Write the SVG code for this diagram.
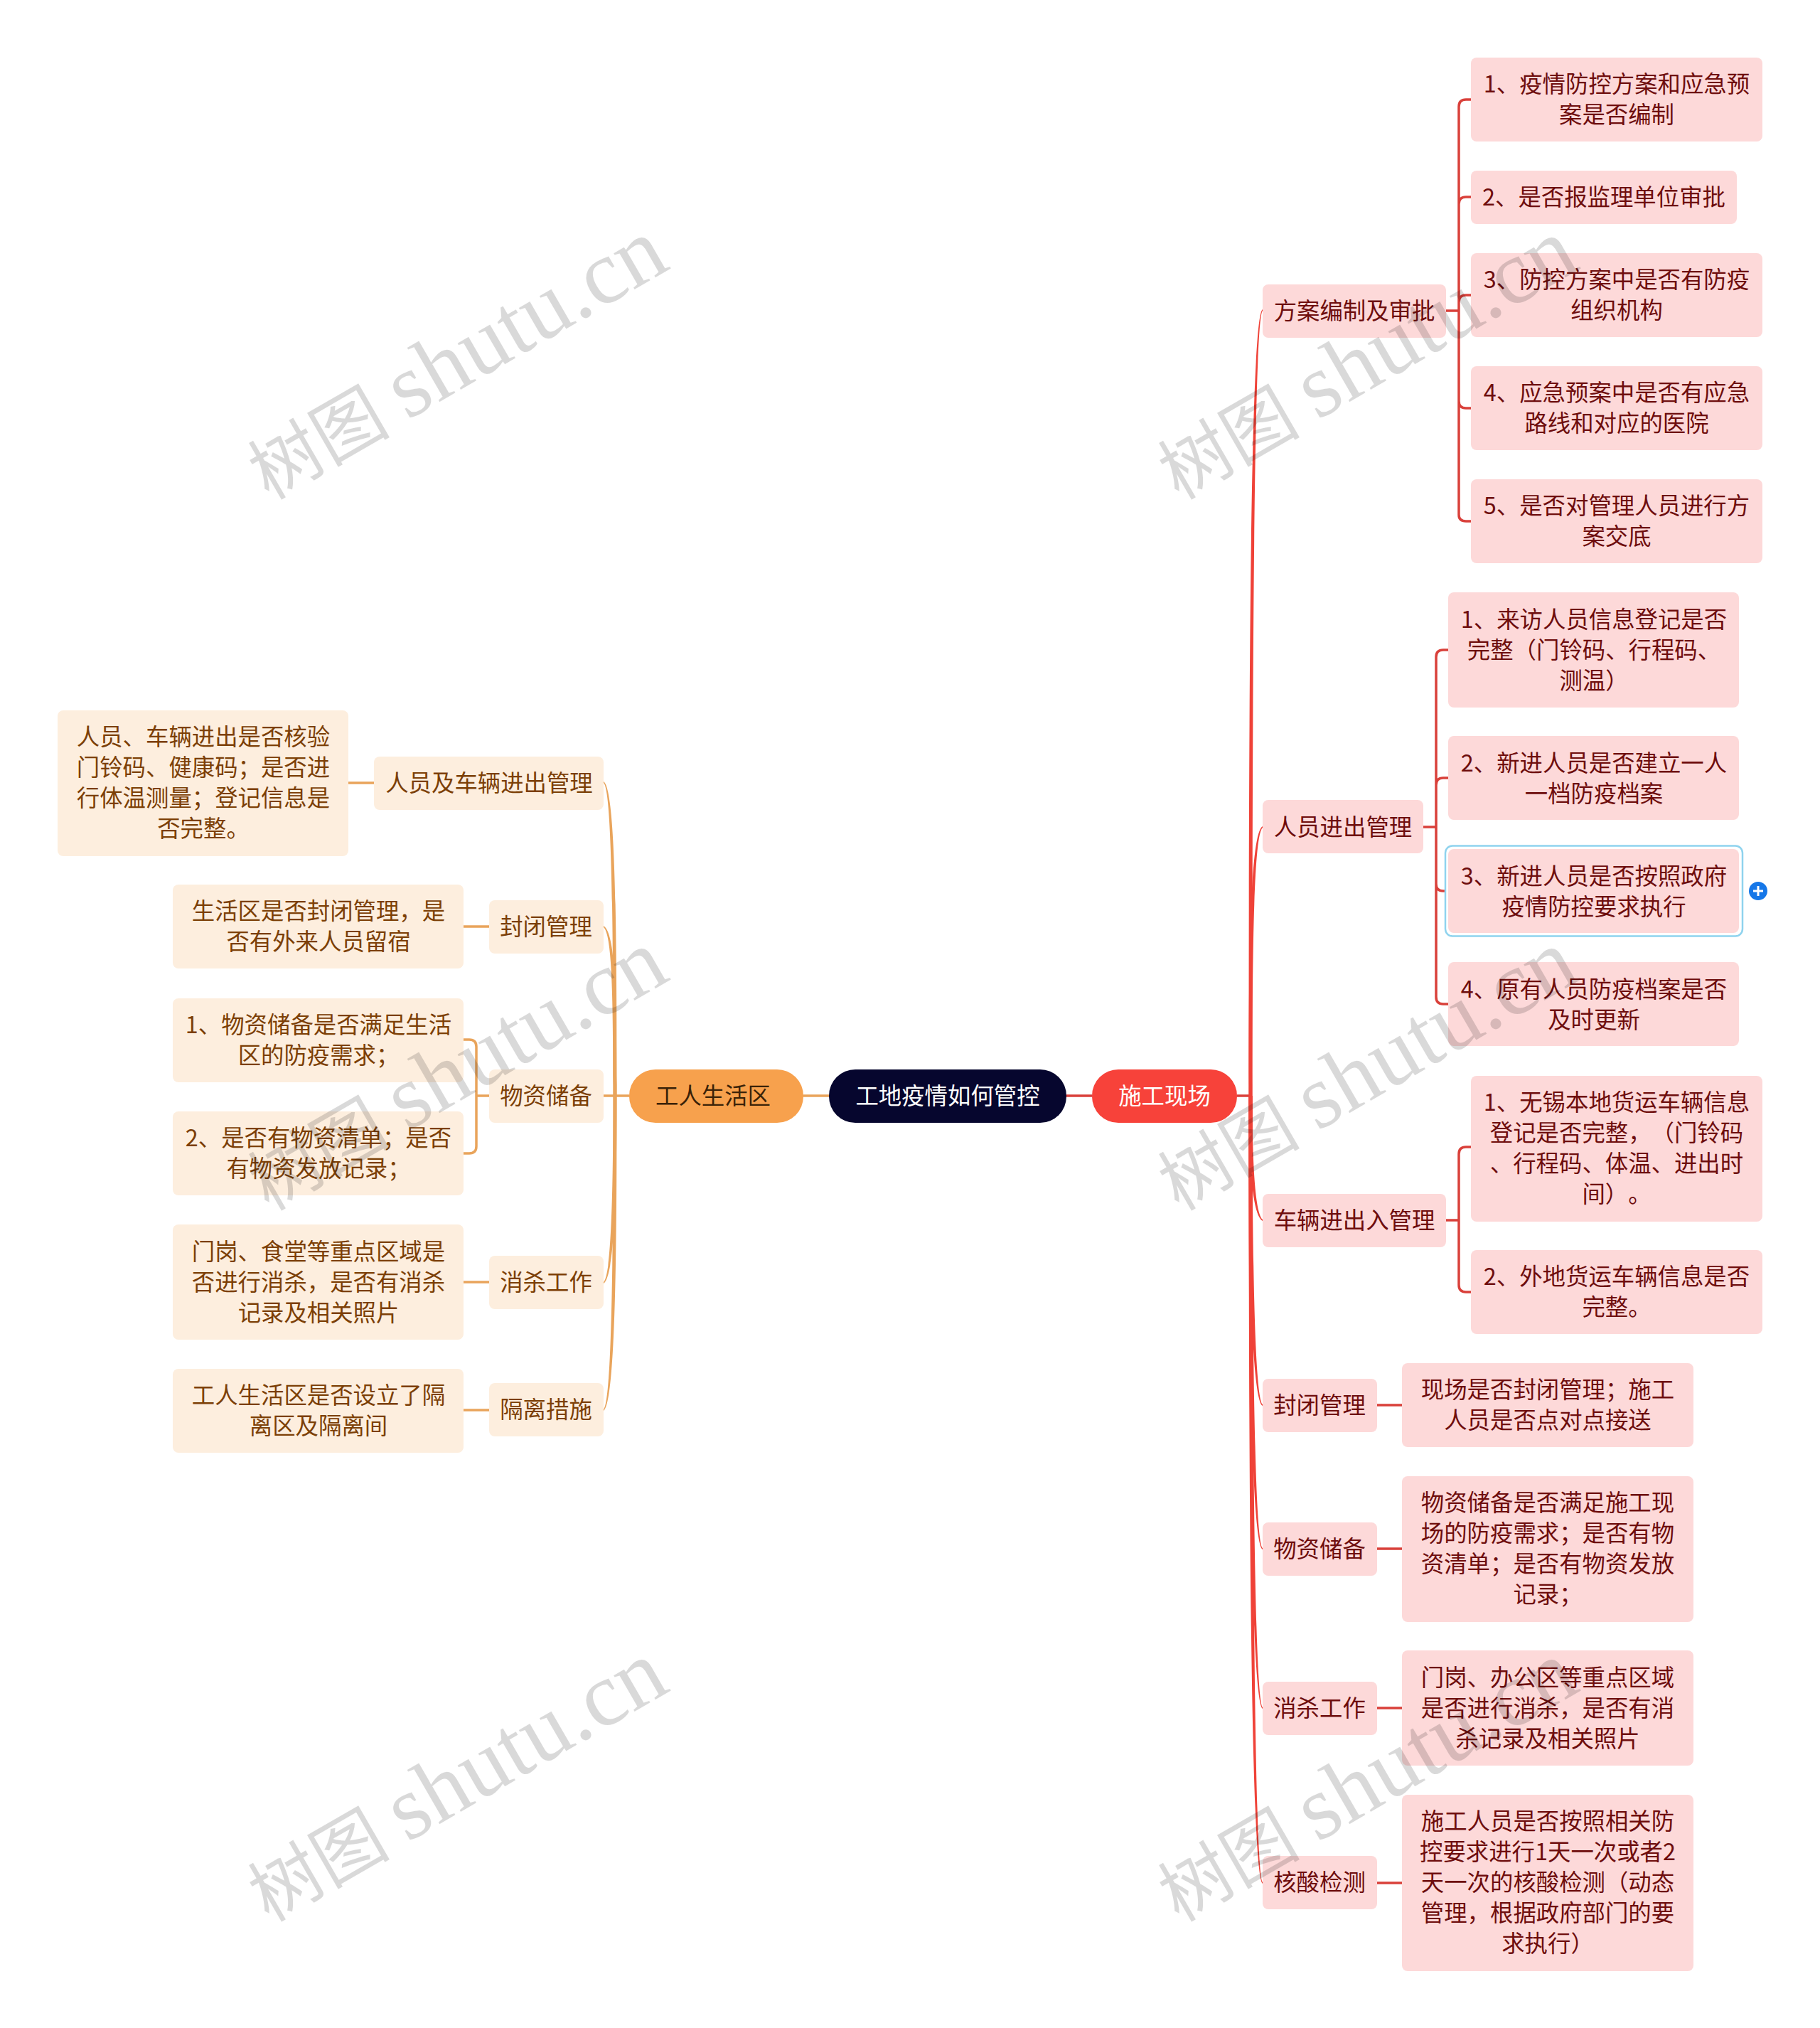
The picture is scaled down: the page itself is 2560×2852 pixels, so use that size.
<svg xmlns="http://www.w3.org/2000/svg" width="2560" height="2852" viewBox="0 0 2560 2852">
<style>
text{font-family:"Noto Sans CJK SC","Noto Sans",sans-serif;font-size:32.4px;text-anchor:middle;text-spacing-trim:space-all}
.r rect{fill:#fdd9d9}.r text{fill:#6e0d0d}
.o rect{fill:#fdeede}.o text{fill:#7c3f06}
.wm{font-family:"Liberation Serif","Noto Sans CJK SC",serif;font-size:128px;fill:#000;fill-opacity:.15;text-anchor:start}
.wm tspan.c{font-family:"Noto Sans CJK SC",serif;font-size:100px}
.lr{fill:none;stroke:#d9403a;stroke-width:3.500}.lo{fill:none;stroke:#e9a45b;stroke-width:3.500}
.tr{fill:#ef4238}.to{fill:#e9a45b}
</style>
<rect width="2560" height="2852" fill="#fff"/>
<g id="connectors">
<path class="lr" d="M1500 1541H1536M1740 1541H1759"/>
<path class="lo" d="M1130 1541H1166M849 1541H885"/>
<path class="tr" d="M1756.500 1541C1756.500 1000 1758 445 1776 435V437C1763 447 1761.500 1000 1761.500 1541Z"/>
<path class="tr" d="M1756.500 1541C1756.500 1350 1758 1172 1776 1162V1164C1763 1174 1761.500 1350 1761.500 1541Z"/>
<path class="tr" d="M1756.500 1541C1756.500 1600 1758 1706 1776 1717V1715C1763 1704 1761.500 1600 1761.500 1541Z"/>
<path class="tr" d="M1756.500 1541C1756.500 1700 1758 1966 1776 1977V1975C1763 1964 1761.500 1700 1761.500 1541Z"/>
<path class="tr" d="M1756.500 1541C1756.500 1800 1758 2168 1776 2179V2177C1763 2166 1761.500 1800 1761.500 1541Z"/>
<path class="tr" d="M1756.500 1541C1756.500 1900 1758 2392 1776 2403V2401C1763 2390 1761.500 1900 1761.500 1541Z"/>
<path class="tr" d="M1756.500 1541C1756.500 2000 1758 2638 1776 2649V2647C1763 2636 1761.500 2000 1761.500 1541Z"/>
<path class="to" d="M867.500 1541C867.500 1300 866 1110 849 1099V1101C861 1112 862.500 1300 862.500 1541Z"/>
<path class="to" d="M867.500 1541C867.500 1400 866 1313 849 1302V1304C861 1315 862.500 1400 862.500 1541Z"/>
<path class="to" d="M867.500 1541C867.500 1650 866 1794 849 1805V1803C861 1792 862.500 1650 862.500 1541Z"/>
<path class="to" d="M867.500 1541C867.500 1750 866 1973 849 1984V1982C861 1971 862.500 1750 862.500 1541Z"/>
<path class="lr" d="M2034 437H2052M2069 140H2062Q2052 140 2052 150V724Q2052 733 2062 733H2069M2069 277H2062Q2052 277 2052 287M2069 415H2062Q2052 415 2052 425M2069 574H2062Q2052 574 2052 564"/>
<path class="lr" d="M2002 1163H2020M2037 914H2030Q2020 914 2020 924V1402Q2020 1412 2030 1412H2037M2037 1094H2030Q2020 1094 2020 1104M2037 1253H2030Q2020 1253 2020 1243"/>
<path class="lr" d="M2034 1716H2052M2070 1613H2062Q2052 1613 2052 1623V1807Q2052 1817 2062 1817H2070"/>
<path class="lr" d="M1937 1976H1972M1937 2178H1972M1937 2402H1972M1937 2648H1972"/>
<path class="lo" d="M490 1101H526M652 1303H688M652 1803H688M652 1983H688"/>
<path class="lo" d="M688 1541H670M652 1462H660Q670 1462 670 1472V1612Q670 1622 660 1622H652"/>
</g>
<g id="root"><rect x="1166" y="1504" width="334" height="75" rx="37" fill="#06062e"/><text x="1333" y="1553" fill="#fff">工地疫情如何管控</text></g>
<g id="site"><rect x="1536" y="1504" width="204" height="75" rx="37" fill="#f7423a"/><text x="1638" y="1553" fill="#fff">施工现场</text></g>
<g id="living"><rect x="885" y="1504" width="245" height="75" rx="37" fill="#f7a14d"/><text x="1003" y="1553" fill="#3a2208">工人生活区</text></g>
<g class="r">
<g id="r1"><rect x="1776" y="400" width="258" height="75" rx="8"/><text x="1905" y="448.500">方案编制及审批</text></g>
<g id="r11"><rect x="2069" y="81" width="410" height="118" rx="8"/><text x="2274" y="129.500">1、疫情防控方案和应急预</text><text x="2274" y="172.500">案是否编制</text></g>
<g id="r12"><rect x="2069" y="240" width="374" height="75" rx="8"/><text x="2256" y="288.500">2、是否报监理单位审批</text></g>
<g id="r13"><rect x="2069" y="356" width="410" height="118" rx="8"/><text x="2274" y="404.500">3、防控方案中是否有防疫</text><text x="2274" y="447.500">组织机构</text></g>
<g id="r14"><rect x="2069" y="515" width="410" height="118" rx="8"/><text x="2274" y="563.500">4、应急预案中是否有应急</text><text x="2274" y="606.500">路线和对应的医院</text></g>
<g id="r15"><rect x="2069" y="674" width="410" height="118" rx="8"/><text x="2274" y="722.500">5、是否对管理人员进行方</text><text x="2274" y="765.500">案交底</text></g>
<g id="r2"><rect x="1776" y="1125" width="226" height="75" rx="8"/><text x="1889" y="1174.500">人员进出管理</text></g>
<g id="r21"><rect x="2037" y="833" width="409" height="162" rx="8"/><text x="2242" y="883">1、来访人员信息登记是否</text><text x="2242" y="926">完整（门铃码、行程码、</text><text x="2242" y="969">测温）</text></g>
<g id="r22"><rect x="2037" y="1035" width="409" height="118" rx="8"/><text x="2242" y="1084.500">2、新进人员是否建立一人</text><text x="2242" y="1127.500">一档防疫档案</text></g>
<g id="r23"><rect x="2033" y="1189.500" width="418" height="127" rx="10" style="fill:#fff;stroke:#8fd3ee;stroke-width:2.500"/><rect x="2037" y="1194" width="409" height="118" rx="8"/><text x="2242" y="1243.500">3、新进人员是否按照政府</text><text x="2242" y="1286.500">疫情防控要求执行</text></g>
<g id="r24"><rect x="2037" y="1353" width="409" height="118" rx="8"/><text x="2242" y="1402.500">4、原有人员防疫档案是否</text><text x="2242" y="1445.500">及时更新</text></g>
<g id="r3"><rect x="1776" y="1679" width="258" height="75" rx="8"/><text x="1905" y="1728">车辆进出入管理</text></g>
<g id="r31"><rect x="2069" y="1513" width="410" height="205" rx="8"/><text x="2274" y="1562">1、无锡本地货运车辆信息</text><text x="2274" y="1605">登记是否完整，（门铃码</text><text x="2274" y="1648">、行程码、体温、进出时</text><text x="2274" y="1691">间）。</text></g>
<g id="r32"><rect x="2069" y="1758" width="410" height="118" rx="8"/><text x="2274" y="1807">2、外地货运车辆信息是否</text><text x="2274" y="1850">完整。</text></g>
<g id="r4"><rect x="1776" y="1939" width="161" height="75" rx="8"/><text x="1856" y="1988">封闭管理</text></g>
<g id="r41"><rect x="1972" y="1917" width="410" height="118" rx="8"/><text x="2177" y="1966">现场是否封闭管理；施工</text><text x="2177" y="2009">人员是否点对点接送</text></g>
<g id="r5"><rect x="1776" y="2141" width="161" height="75" rx="8"/><text x="1856" y="2190">物资储备</text></g>
<g id="r51"><rect x="1972" y="2076" width="410" height="205" rx="8"/><text x="2177" y="2125">物资储备是否满足施工现</text><text x="2177" y="2168">场的防疫需求；是否有物</text><text x="2177" y="2211">资清单；是否有物资发放</text><text x="2177" y="2254">记录；</text></g>
<g id="r6"><rect x="1776" y="2365" width="161" height="75" rx="8"/><text x="1856" y="2414">消杀工作</text></g>
<g id="r61"><rect x="1972" y="2321" width="410" height="162" rx="8"/><text x="2177" y="2371">门岗、办公区等重点区域</text><text x="2177" y="2414">是否进行消杀，是否有消</text><text x="2177" y="2457">杀记录及相关照片</text></g>
<g id="r7"><rect x="1776" y="2610" width="161" height="75" rx="8"/><text x="1856" y="2659">核酸检测</text></g>
<g id="r71"><rect x="1972" y="2524" width="410" height="248" rx="8"/><text x="2177" y="2573">施工人员是否按照相关防</text><text x="2177" y="2616">控要求进行1天一次或者2</text><text x="2177" y="2659">天一次的核酸检测（动态</text><text x="2177" y="2702">管理，根据政府部门的要</text><text x="2177" y="2745">求执行）</text></g>
</g>
<g class="o">
<g id="l1"><rect x="526" y="1064" width="323" height="75" rx="8"/><text x="688" y="1113">人员及车辆进出管理</text></g>
<g id="l11"><rect x="81" y="999" width="409" height="205" rx="8"/><text x="286" y="1048">人员、车辆进出是否核验</text><text x="286" y="1091">门铃码、健康码；是否进</text><text x="286" y="1134">行体温测量；登记信息是</text><text x="286" y="1177">否完整。</text></g>
<g id="l2"><rect x="688" y="1266" width="161" height="75" rx="8"/><text x="768" y="1315">封闭管理</text></g>
<g id="l21"><rect x="243" y="1244" width="409" height="118" rx="8"/><text x="448" y="1293">生活区是否封闭管理，是</text><text x="448" y="1336">否有外来人员留宿</text></g>
<g id="l3"><rect x="688" y="1504" width="161" height="75" rx="8"/><text x="768" y="1553">物资储备</text></g>
<g id="l31"><rect x="243" y="1404" width="409" height="118" rx="8"/><text x="448" y="1453">1、物资储备是否满足生活</text><text x="448" y="1496">区的防疫需求；</text></g>
<g id="l32"><rect x="243" y="1563" width="409" height="118" rx="8"/><text x="448" y="1612">2、是否有物资清单；是否</text><text x="448" y="1655">有物资发放记录；</text></g>
<g id="l4"><rect x="688" y="1766" width="161" height="75" rx="8"/><text x="768" y="1815">消杀工作</text></g>
<g id="l41"><rect x="243" y="1722" width="409" height="162" rx="8"/><text x="448" y="1772">门岗、食堂等重点区域是</text><text x="448" y="1815">否进行消杀，是否有消杀</text><text x="448" y="1858">记录及相关照片</text></g>
<g id="l5"><rect x="688" y="1945" width="161" height="75" rx="8"/><text x="768" y="1994">隔离措施</text></g>
<g id="l51"><rect x="243" y="1925" width="409" height="118" rx="8"/><text x="448" y="1974">工人生活区是否设立了隔</text><text x="448" y="2017">离区及隔离间</text></g>
</g>
<g id="add"><circle cx="2473" cy="1253" r="13" fill="#1677e8"/><path d="M2466 1253H2480M2473 1246V1260" stroke="#fff" stroke-width="3" fill="none"/></g>
<g id="watermark">
<text class="wm" transform="translate(378 704) rotate(-30)"><tspan class="c">树图</tspan><tspan x="225">shutu.cn</tspan></text>
<text class="wm" transform="translate(1658 704) rotate(-30)"><tspan class="c">树图</tspan><tspan x="225">shutu.cn</tspan></text>
<text class="wm" transform="translate(378 1704) rotate(-30)"><tspan class="c">树图</tspan><tspan x="225">shutu.cn</tspan></text>
<text class="wm" transform="translate(1658 1704) rotate(-30)"><tspan class="c">树图</tspan><tspan x="225">shutu.cn</tspan></text>
<text class="wm" transform="translate(378 2704) rotate(-30)"><tspan class="c">树图</tspan><tspan x="225">shutu.cn</tspan></text>
<text class="wm" transform="translate(1658 2704) rotate(-30)"><tspan class="c">树图</tspan><tspan x="225">shutu.cn</tspan></text>
</g>
</svg>
